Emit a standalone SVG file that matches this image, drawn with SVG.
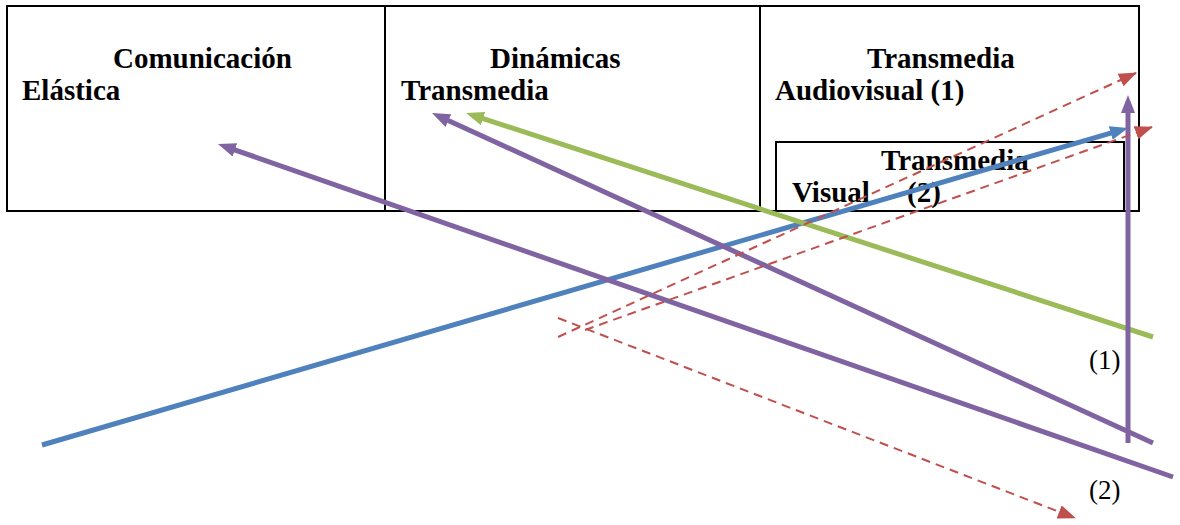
<svg xmlns="http://www.w3.org/2000/svg" width="1180" height="525" viewBox="0 0 1180 525">
<style>
.box{fill:none;stroke:#000;stroke-width:2}
.t{font-family:"Liberation Serif","Times New Roman",serif;font-weight:bold;font-size:29px;fill:#000}
.lbl{font-family:"Liberation Serif","Times New Roman",serif;font-size:27px;fill:#000}
.blue{stroke:#4F81BD;stroke-width:5;fill:none}
.green{stroke:#9BBB59;stroke-width:5;fill:none}
.purple{stroke:#8064A2;stroke-width:5;fill:none}
.red{stroke:#C0504D;stroke-width:2;fill:none;stroke-dasharray:9,6}
</style>
<defs>
<marker id="mb" markerUnits="userSpaceOnUse" markerWidth="18" markerHeight="14" refX="8" refY="7" orient="auto"><path d="M0,0 L18,7 L0,14 z" fill="#4F81BD"/></marker>
<marker id="mg" markerUnits="userSpaceOnUse" markerWidth="18" markerHeight="14" refX="8" refY="7" orient="auto"><path d="M0,0 L18,7 L0,14 z" fill="#9BBB59"/></marker>
<marker id="mp" markerUnits="userSpaceOnUse" markerWidth="18" markerHeight="14" refX="8" refY="7" orient="auto"><path d="M0,0 L18,7 L0,14 z" fill="#8064A2"/></marker>
<marker id="mr" markerUnits="userSpaceOnUse" markerWidth="18" markerHeight="14" refX="17" refY="7" orient="auto"><path d="M0,0 L18,7 L0,14 z" fill="#C0504D"/></marker>
</defs>
<g id="node-comunicacion">
<rect class="box" x="7" y="6" width="378" height="205"/>
<text class="t" x="113" y="68">Comunicación</text>
<text class="t" x="22" y="100">Elástica</text>
</g>
<g id="node-dinamicas">
<rect class="box" x="385" y="6" width="375" height="205"/>
<text class="t" x="490" y="68">Dinámicas</text>
<text class="t" x="401" y="100">Transmedia</text>
</g>
<g id="node-audiovisual">
<rect class="box" x="760" y="6" width="379" height="205"/>
<text class="t" x="867" y="68">Transmedia</text>
<text class="t" x="775" y="100">Audiovisual (1)</text>
</g>
<g id="node-visual">
<rect class="box" x="776" y="142" width="348" height="69"/>
<text class="t" x="881" y="170">Transmedia</text>
<text class="t" x="792" y="202">Visual</text>
<text class="t" x="907" y="202">(2)</text>
</g>
<g id="connectors">
<line class="blue" x1="42" y1="445" x2="1118.4" y2="130.8" marker-end="url(#mb)"/>
<line class="green" x1="1153" y1="337" x2="475.5" y2="116.1" marker-end="url(#mg)"/>
<line class="purple" x1="1153" y1="443" x2="441.1" y2="117.2" marker-end="url(#mp)"/>
<line class="purple" x1="1173" y1="477" x2="227.4" y2="147.3" marker-end="url(#mp)"/>
<line class="purple" x1="1128" y1="443" x2="1128" y2="105" marker-end="url(#mp)"/>
<line class="red" x1="558" y1="337" x2="1136" y2="73" marker-end="url(#mr)"/>
<line class="red" x1="585" y1="330" x2="1152" y2="127" marker-end="url(#mr)"/>
<line class="red" x1="558" y1="318" x2="1075" y2="518" marker-end="url(#mr)"/>
</g>
<text class="lbl" x="1089" y="369">(1)</text>
<text class="lbl" x="1089" y="499">(2)</text>
</svg>
